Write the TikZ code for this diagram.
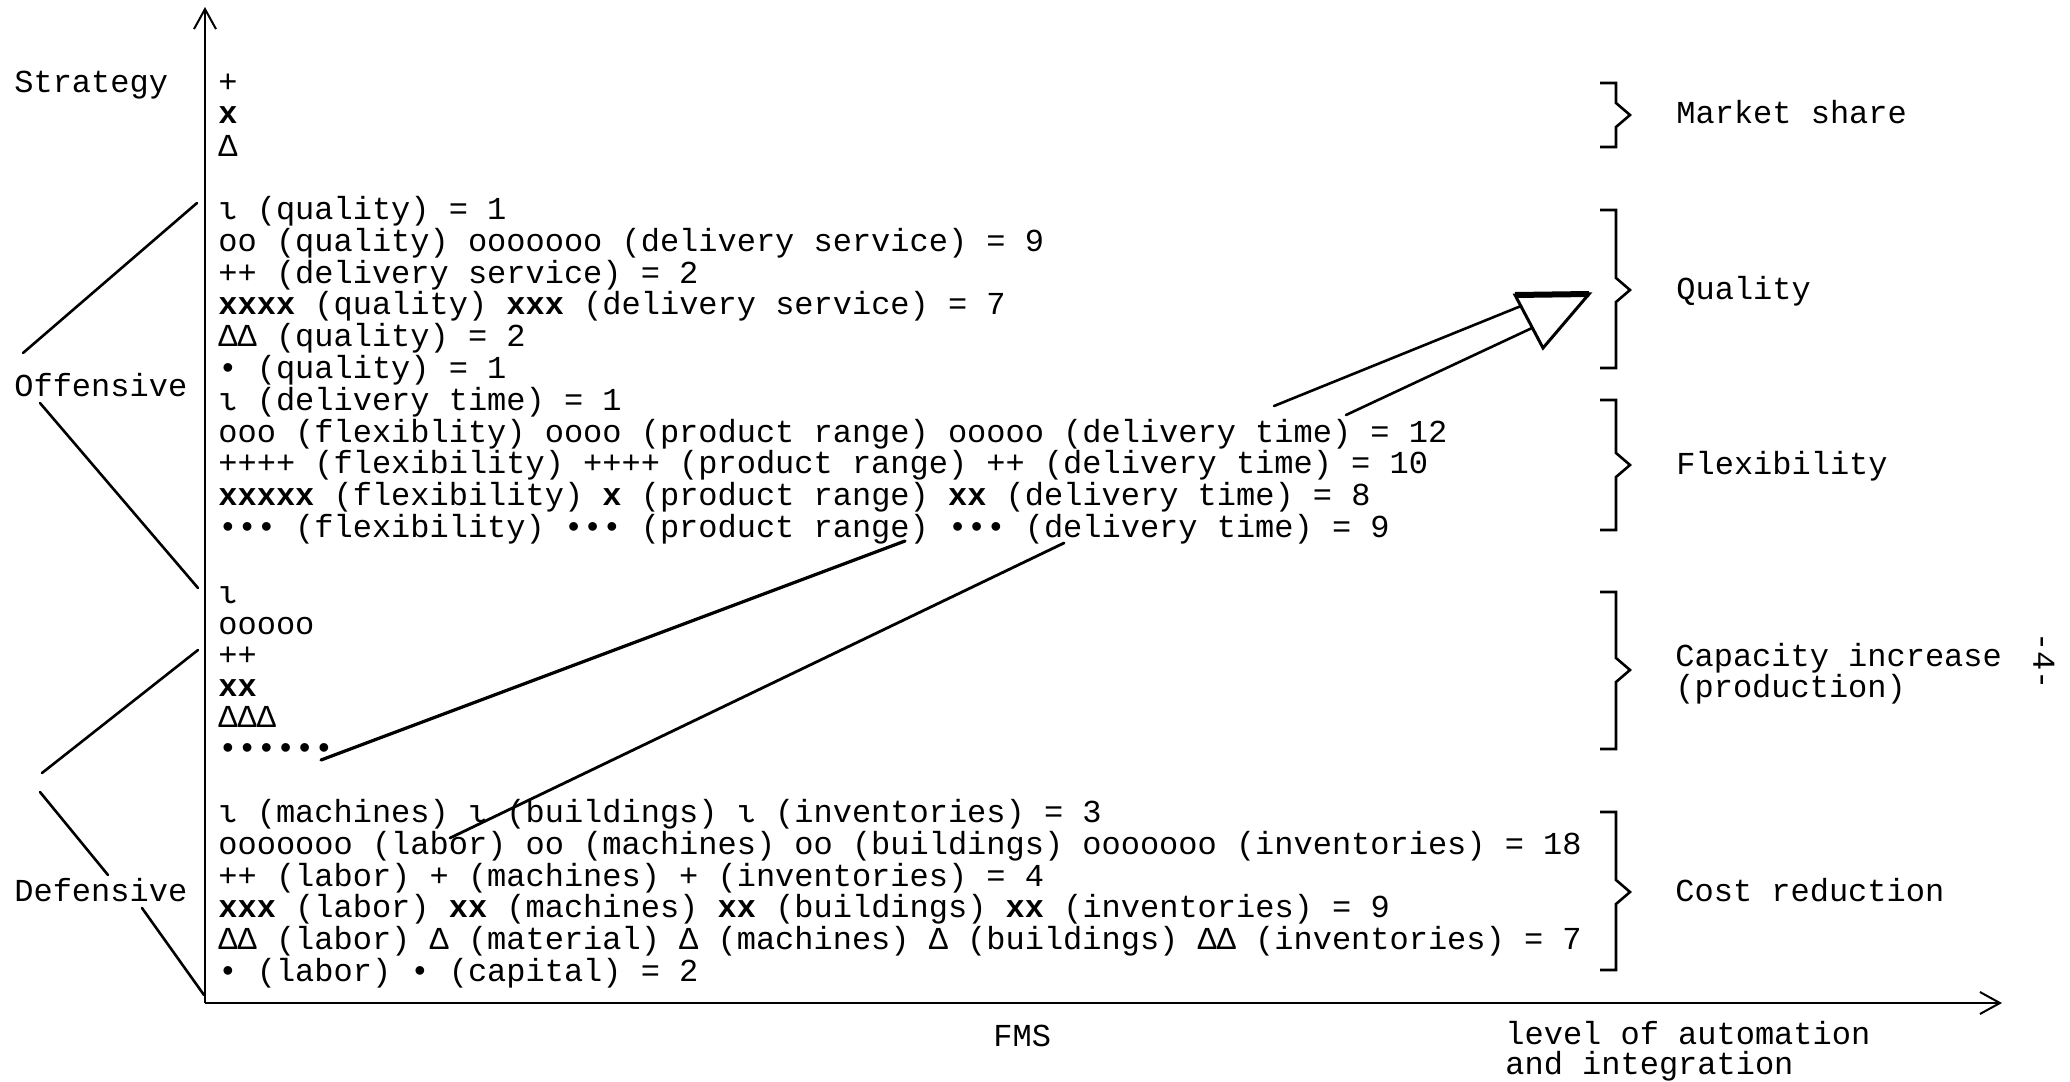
\documentclass[tikz,border=0pt]{standalone}
\usepackage{fontspec}
\setmainfont{Liberation Mono}
\usetikzlibrary{arrows.meta}
\begin{document}
\begin{tikzpicture}[x=0.5pt,y=-0.5pt,
  row/.style={anchor=base west,inner sep=0pt,font=\fontsize{16pt}{16pt}\selectfont},
  ln/.style={line width=1.3pt,line cap=round},
  axis/.style={line width=1.3pt,-{Straight Barb[length=10pt,width=11pt,line width=1pt]}},
  brk/.style={line width=1.3pt,line join=miter}]
\useasboundingbox[fill=white] (0,0) rectangle (2070,1081);

% axes
\coordinate (O) at (205,1003);
\coordinate (ytop) at (205,7);
\coordinate (xend) at (2002,1003);
\draw[axis] (O) -- (ytop);
\draw[axis] (O) -- (xend);

% left labels
\node[row] (strat) at (14,92) {Strategy};
\node[row] (off) at (14,396) {Offensive};
\node[row] (def) at (14,901) {Defensive};

% left diagonal lines
\coordinate (l1a) at (23,353);  \coordinate (l1b) at (197,203);
\coordinate (l2a) at (40,403);  \coordinate (l2b) at (198,588);
\coordinate (l3a) at (42,773);  \coordinate (l3b) at (198,650);
\coordinate (l4a) at (40,792);  \coordinate (l4b) at (108,875);
\coordinate (l5a) at (142,908); \coordinate (l5b) at (204,995);
\draw[ln] (l1a) -- (l1b);
\draw[ln] (l2a) -- (l2b);
\draw[ln] (l3a) -- (l3b);
\draw[ln] (l4a) -- (l4b);
\draw[ln] (l5a) -- (l5b);

% strategy marks
\node[row] (s1) at (218,92) {+};
\node[row] (s2) at (218,124) {\textbf{x}};
\node[row] (s3) at (218,156) {Δ};

% quality / flexibility block
\node[row] (q1) at (218,219) {ι (quality) = 1};
\node[row] (q2) at (218,251) {oo (quality) ooooooo (delivery service) = 9};
\node[row] (q3) at (218,283) {++ (delivery service) = 2};
\node[row] (q4) at (218,314) {\textbf{xxxx} (quality) \textbf{xxx} (delivery service) = 7};
\node[row] (q5) at (218,346) {ΔΔ (quality) = 2};
\node[row] (q6) at (218,378) {• (quality) = 1};
\node[row] (q7) at (218,410) {ι (delivery time) = 1};
\node[row] (q8) at (218,442) {ooo (flexiblity) oooo (product range) ooooo (delivery time) = 12};
\node[row] (q9) at (218,473) {++++ (flexibility) ++++ (product range) ++ (delivery time) = 10};
\node[row] (q10) at (218,505) {\textbf{xxxxx} (flexibility) \textbf{x} (product range) \textbf{xx} (delivery time) = 8};
\node[row] (q11) at (218,537) {••• (flexibility) ••• (product range) ••• (delivery time) = 9};

% capacity block
\node[row] (c1) at (218,603) {ι};
\node[row] (c2) at (218,634) {ooooo};
\node[row] (c3) at (218,665) {++};
\node[row] (c4) at (218,696) {\textbf{xx}};
\node[row] (c5) at (218,727) {ΔΔΔ};
\node[row] (c6) at (218,758) {••••••};

% cost block
\node[row] (k1) at (218,822) {ι (machines) ι (buildings) ι (inventories) = 3};
\node[row] (k2) at (218,854) {ooooooo (labor) oo (machines) oo (buildings) ooooooo (inventories) = 18};
\node[row] (k3) at (218,886) {++ (labor) + (machines) + (inventories) = 4};
\node[row] (k4) at (218,917) {\textbf{xxx} (labor) \textbf{xx} (machines) \textbf{xx} (buildings) \textbf{xx} (inventories) = 9};
\node[row] (k5) at (218,949) {ΔΔ (labor) Δ (material) Δ (machines) Δ (buildings) ΔΔ (inventories) = 7};
\node[row] (k6) at (218,981) {• (labor) • (capital) = 2};

% right brackets
\draw[brk] (1600,83) -- (1616,83) -- (1616,103) -- (1630,115) -- (1616,127) -- (1616,147) -- (1600,147);
\draw[brk] (1600,210) -- (1616,210) -- (1616,278) -- (1630,290) -- (1616,302) -- (1616,368) -- (1600,368);
\draw[brk] (1600,400) -- (1616,400) -- (1616,453) -- (1630,465) -- (1616,477) -- (1616,530) -- (1600,530);
\draw[brk] (1600,592) -- (1616,592) -- (1616,658) -- (1630,670) -- (1616,682) -- (1616,749) -- (1600,749);
\draw[brk] (1600,812) -- (1616,812) -- (1616,880) -- (1630,892) -- (1616,904) -- (1616,970) -- (1600,970);

% right labels
\node[row] (ms) at (1676,124) {Market share};
\node[row] (ql) at (1676,299) {Quality};
\node[row] (fl) at (1676,474) {Flexibility};
\node[row] (ci) at (1675,666) {Capacity increase};
\node[row] (cp) at (1675,697) {(production)};
\node[row] (cr) at (1675,901) {Cost reduction};
\node[inner sep=0pt,rotate=-90,font=\fontsize{16pt}{16pt}\selectfont] (pg) at (2044,661) {-4-};

% bottom labels
\node[row] (fms) at (993,1046) {FMS};
\node[row] (lev1) at (1505,1044) {level of automation};
\node[row] (lev2) at (1505,1074) {and integration};

% big open arrow
\coordinate (t1) at (1515,295);
\coordinate (t2) at (1589,294);
\coordinate (t3) at (1543,348);
\draw[line width=1.5pt,line join=miter] (t1) -- (t2) -- (t3) -- cycle;
\draw[line width=3pt] (t1) -- (t2);
\coordinate (a1) at (1274,406); \coordinate (a1e) at (1521,306);
\coordinate (a2) at (1346,415); \coordinate (a2e) at (1532,328);
\draw[ln] (a1) -- (a1e);
\draw[ln] (a2) -- (a2e);

% lower connector lines
\coordinate (bA) at (321,760); \coordinate (bAe) at (905,541);
\coordinate (bB) at (450,838); \coordinate (bBe) at (1064,543);
\draw[ln,line width=1.6pt] (bA) -- (bAe);
\draw[ln,line width=1.4pt] (bB) -- (bBe);
\end{tikzpicture}
\end{document}
